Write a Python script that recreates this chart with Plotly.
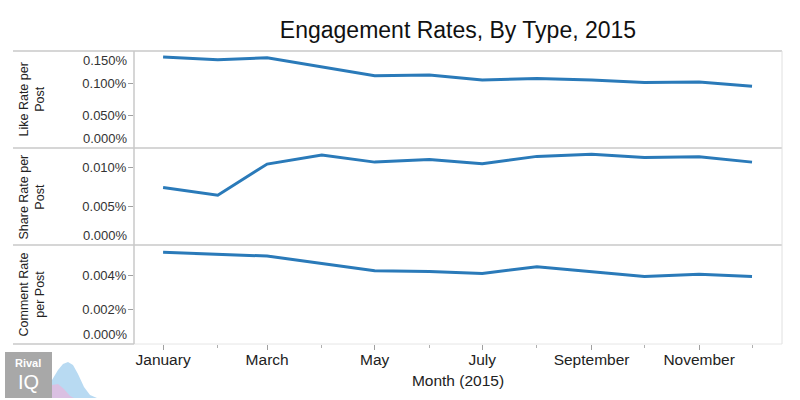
import plotly.graph_objects as go

# ---------------- data ----------------
months = ["2015-01-01", "2015-02-01", "2015-03-01", "2015-04-01", "2015-05-01", "2015-06-01",
          "2015-07-01", "2015-08-01", "2015-09-01", "2015-10-01", "2015-11-01", "2015-12-01"]
like_rate = [0.001409, 0.001364, 0.001394, 0.001258, 0.001117, 0.001127,
             0.001052, 0.001076, 0.001052, 0.001011, 0.001021, 0.000955]
share_rate = [0.0000742, 0.0000642, 0.0001043, 0.0001159, 0.0001068, 0.0001103,
              0.0001047, 0.0001142, 0.0001168, 0.0001129, 0.0001137, 0.0001068]
comment_rate = [0.0000537, 0.0000527, 0.0000515, 0.0000471, 0.0000429, 0.0000425,
                0.0000413, 0.0000453, 0.0000425, 0.0000395, 0.0000408, 0.0000396]
row_titles = ["Like Rate per<br>Post", "Share Rate per<br>Post", "Comment Rate<br>per Post"]
title_text = "Engagement Rates, By Type, 2015"
x_title = "Month (2015)"

# ---------------- layout geometry (pixels) ----------------
W, H = 800, 400
L, R, T, B = 134, 782, 51, 344
PW, PH = R - L, B - T


def px(x):
    return (x - L) / PW


def py(y):
    return (B - y) / PH


LINE = "#2a7ab9"
FONT = "Liberation Sans, Arial, Helvetica, sans-serif"
GRID = "#c8c8c8"
TICKFONT = dict(family=FONT, size=13, color="#333333")

d1 = [py(148), 1.0]
d2 = [py(245), py(148)]
d3 = [0.0, py(245)]

fig = go.Figure()
fig.add_trace(go.Scatter(x=months, y=like_rate, mode="lines", xaxis="x", yaxis="y3",
                         line=dict(color=LINE, width=3), showlegend=False))
fig.add_trace(go.Scatter(x=months, y=share_rate, mode="lines", xaxis="x", yaxis="y2",
                         line=dict(color=LINE, width=3), showlegend=False))
fig.add_trace(go.Scatter(x=months, y=comment_rate, mode="lines", xaxis="x", yaxis="y",
                         line=dict(color=LINE, width=3), showlegend=False))

yax_common = dict(showgrid=False, zeroline=False, showline=False, ticks="outside", ticklen=5,
                  tickcolor="#a0a0a0", tickfont=TICKFONT, ticklabelstandoff=-1,
                  tickformat=".3%", anchor="x", fixedrange=True)

fig.update_layout(
    width=W, height=H,
    margin=dict(l=L, r=W - R, t=T, b=H - B),
    paper_bgcolor="white", plot_bgcolor="white",
    title=dict(text=title_text, x=0.5, xref="paper", xanchor="center", y=1 - 30 / H, yanchor="middle",
               font=dict(family=FONT, size=23, color="#111111")),
    xaxis=dict(type="date", range=["2014-12-15 12:00", "2015-12-18"], anchor="y",
               tick0="2015-01-01", dtick="M2", tickformat="%B", ticks="outside", ticklen=5,
               tickcolor="#a0a0a0", showgrid=False, zeroline=False, showline=False,
               ticklabelstandoff=-4,
               tickfont=dict(family=FONT, size=15.5, color="#222222"),
               minor=dict(dtick="M1", ticks="outside", ticklen=3, tickcolor="#b0b0b0", showgrid=False),
               title=dict(text=x_title, font=dict(family=FONT, size=15.5, color="#222222"), standoff=8)),
    yaxis=dict(domain=d3, range=[0, 0.000058], tickvals=[0.00002, 0.00004], **yax_common),
    yaxis2=dict(domain=d2, range=[0, 0.000125], tickvals=[0.00005, 0.0001], **yax_common),
    yaxis3=dict(domain=d1, range=[0, 0.0015], tickvals=[0.0005, 0.001], **yax_common),
)

# clamped edge labels
ann = []
lab_x = px(130)
ann.append(dict(text="0.150%", x=lab_x, xref="paper", xanchor="right", y=1, yref="y3 domain",
                yanchor="top", showarrow=False, font=TICKFONT))
for yr in ["y3 domain", "y2 domain", "y domain"]:
    ann.append(dict(text="0.000%", x=lab_x, xref="paper", xanchor="right", y=0, yref=yr,
                    yanchor="bottom", showarrow=False, font=TICKFONT))
# row titles
for t, yr in zip(row_titles, ["y3 domain", "y2 domain", "y domain"]):
    ann.append(dict(text=t, x=px(31), xref="paper", xanchor="center", y=0.5, yref=yr, yanchor="middle",
                    textangle=-90, showarrow=False, font=dict(family=FONT, size=12.5, color="#222222")))
# logo text
ann.append(dict(text="<b>Rival</b>", x=px(28), y=py(363), xref="paper", yref="paper", showarrow=False,
                xanchor="center", yanchor="middle", font=dict(family=FONT, size=11, color="white")))
ann.append(dict(text="IQ", x=px(28), y=py(382), xref="paper", yref="paper", showarrow=False,
                xanchor="center", yanchor="middle", font=dict(family=FONT, size=20, color="white")))
fig.update_layout(annotations=ann)

# frame lines
shapes = []
for yy in [51, 148, 245]:
    shapes.append(dict(type="line", xref="paper", yref="paper", x0=px(13), x1=px(R), y0=py(yy), y1=py(yy),
                       line=dict(color=GRID, width=1.5)))
shapes.append(dict(type="line", xref="paper", yref="paper", x0=px(13), x1=px(L), y0=py(344), y1=py(344),
                   line=dict(color=GRID, width=1.5)))
shapes.append(dict(type="line", xref="paper", yref="paper", x0=px(L), x1=px(R), y0=py(344), y1=py(344),
                   line=dict(color="#e6e6e6", width=1)))
shapes.append(dict(type="line", xref="paper", yref="paper", x0=px(L), x1=px(L), y0=py(51), y1=py(344),
                   line=dict(color=GRID, width=1.5)))
shapes.append(dict(type="line", xref="paper", yref="paper", x0=px(R), x1=px(R), y0=py(51), y1=py(344),
                   line=dict(color="#e0e0e0", width=1)))


# logo
def path_px(points, close=True):
    s = "M " + " L ".join(f"{px(x):.5f},{py(y):.5f}" for x, y in points)
    return s + (" Z" if close else "")


shapes.append(dict(type="path", xref="paper", yref="paper", layer="below",
                   path=path_px([(52, 398), (52, 380), (58, 370), (63, 364), (68, 362), (73, 365),
                                 (78, 374), (84, 387), (90, 395), (97, 398)]),
                   fillcolor="rgba(160,205,238,0.75)", line=dict(width=0)))
shapes.append(dict(type="path", xref="paper", yref="paper", layer="below",
                   path=path_px([(52, 398), (52, 385), (58, 384), (64, 389), (70, 396), (74, 398)]),
                   fillcolor="rgba(240,175,215,0.6)", line=dict(width=0)))
shapes.append(dict(type="rect", xref="paper", yref="paper", x0=px(5), x1=px(52), y0=py(352), y1=py(398),
                   fillcolor="#a8a8a8", line=dict(width=0)))
fig.update_layout(shapes=shapes)

fig.write_html("out.html", config={"displayModeBar": False},
               post_script="document.body.style.margin='0';")
